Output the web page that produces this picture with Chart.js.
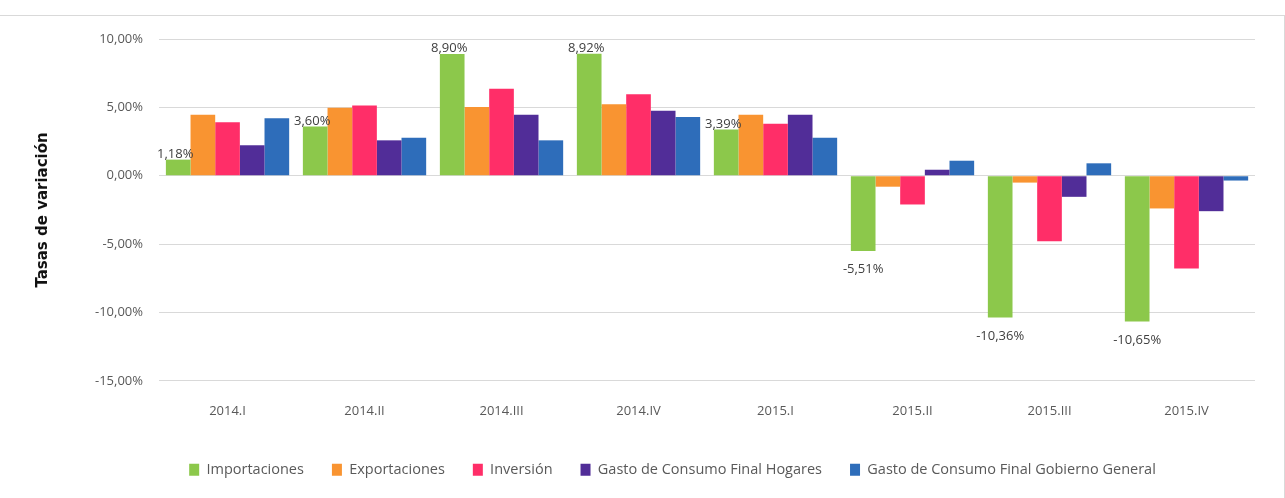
<!DOCTYPE html>
<html>
<head>
<meta charset="utf-8">
<script src="https://cdn.jsdelivr.net/npm/chart.js@4"></script>
<style>
  html, body { margin: 0; padding: 0; background: #fff; }
  #frame { position: absolute; left: -1px; top: 15px; width: 1284px; height: 490px; border: 1px solid #d9d9d9; }
  #wrap { position: absolute; left: 0; top: 0; width: 1285px; height: 498px; }
</style>
</head>
<body>
<div id="frame"></div>
<div id="wrap"><canvas id="chart"></canvas></div>
<script>
const quarters = ["2014.I", "2014.II", "2014.III", "2014.IV", "2015.I", "2015.II", "2015.III", "2015.IV"];
const seriesNames = ["Importaciones", "Exportaciones", "Inversión", "Gasto de Consumo Final Hogares", "Gasto de Consumo Final Gobierno General"];
const importaciones = [1.18, 3.60, 8.90, 8.92, 3.39, -5.51, -10.36, -10.65];
const exportaciones = [4.47, 4.98, 5.03, 5.23, 4.47, -0.80, -0.50, -2.39];
const inversion = [3.91, 5.13, 6.37, 5.96, 3.81, -2.10, -4.78, -6.79];
const hogares = [2.23, 2.59, 4.47, 4.76, 4.47, 0.44, -1.54, -2.59];
const gobierno = [4.20, 2.78, 2.59, 4.30, 2.78, 1.10, 0.91, -0.35];
const colors = ["#8cc84b", "#f99431", "#ff2e68", "#512d98", "#2e6dba"];
const yTicks = [-15, -10, -5, 0, 5, 10];

const fmt = v => v.toFixed(2).replace(".", ",") + "%";
const txtFont = "'Open Sans', sans-serif";

// labels only on the Importaciones bars
const greenLabels = {
  id: "greenLabels",
  afterLayout(chart) {
    // legend sits a bit right of the canvas centre in the original
    chart.legend.left += 28;
    chart.legend.right += 28;
  },
  afterDatasetsDraw(chart) {
    const ctx = chart.ctx;
    const meta = chart.getDatasetMeta(0);
    ctx.save();
    ctx.font = "13px " + txtFont;
    ctx.fillStyle = "#404040";
    ctx.textAlign = "center";
    meta.data.forEach((bar, i) => {
      const v = importaciones[i];
      if (v >= 0) {
        ctx.textBaseline = "bottom";
        ctx.fillText(fmt(v), bar.x - 3, bar.y + 1);
      } else {
        ctx.textBaseline = "top";
        ctx.fillText(fmt(v), bar.x, bar.y + 12);
      }
    });
    ctx.restore();
  }
};

const datasets = [importaciones, exportaciones, inversion, hogares, gobierno].map((d, i) => ({
  label: seriesNames[i],
  data: d,
  backgroundColor: colors[i],
  borderWidth: 0
}));

new Chart(document.getElementById("chart"), {
  type: "bar",
  data: { labels: quarters, datasets },
  options: {
    responsive: true,
    maintainAspectRatio: false,
    animation: false,
    layout: { padding: { top: 39, right: 30, left: 34, bottom: 11 } },
    datasets: { bar: { categoryPercentage: 0.9, barPercentage: 1.0 } },
    scales: {
      x: {
        grid: { display: false },
        border: { display: false },
        ticks: { color: "#595959", font: { size: 13, family: txtFont }, padding: 15 }
      },
      y: {
        min: -15,
        max: 10,
        afterBuildTicks: axis => { axis.ticks = yTicks.map(v => ({ value: v })); },
        grid: { color: "#d9d9d9", drawTicks: false },
        border: { display: false },
        ticks: {
          color: "#595959",
          padding: 16,
          font: { size: 13, family: txtFont },
          callback: v => fmt(v)
        },
        title: {
          display: true,
          text: "Tasas de variación",
          color: "#111",
          padding: { top: 0, bottom: 27 },
          font: { size: 15, weight: "bold", family: "'DejaVu Sans', sans-serif" }
        }
      }
    },
    plugins: {
      legend: {
        position: "bottom",
        labels: {
          color: "#595959",
          boxWidth: 10,
          boxHeight: 12,
          padding: 28,
          font: { size: 14.5, family: txtFont }
        }
      },
      tooltip: { enabled: false }
    }
  },
  plugins: [greenLabels]
});
</script>
</body>
</html>
